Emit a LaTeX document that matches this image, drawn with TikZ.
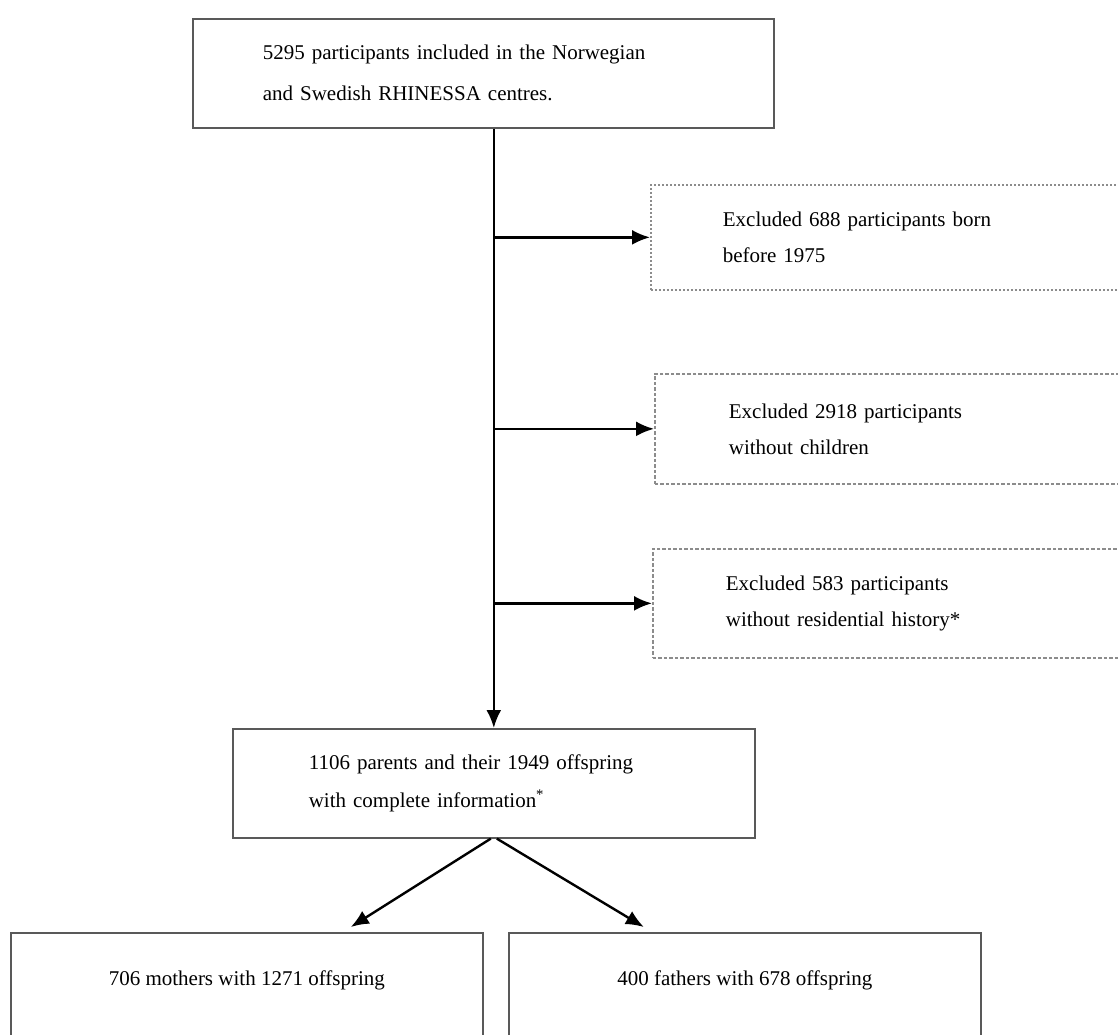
\documentclass[tikz,border=0pt]{standalone}
\usepackage{fontspec}
\setmainfont{Liberation Serif}
\usetikzlibrary{arrows.meta,calc}

\tikzset{
  box/.style={draw=black!65, line width=1.6pt, anchor=north west, align=left,
    inner ysep=0pt, font=\fontsize{21}{36}\selectfont},
  exbox/.style={box, draw=black!45, line width=1.7pt, dash pattern=on 3.5pt off 2pt},
  endbox/.style={draw=black!65, line width=1.6pt, anchor=north west, align=center,
    inner ysep=0pt, text height=53pt, text depth=150pt, font=\fontsize{21}{36}\selectfont},
  flow/.style={-{Latex[length=18pt,width=15pt]}, line width=2.4pt},
}

\begin{document}
\begin{tikzpicture}[x=1pt,y=-1pt]
  \useasboundingbox (0,0) rectangle (1118,1035);
  \clip (0,0) rectangle (1118,1035);

  % main line
  \node[box, minimum width=581pt, minimum height=109pt, text width=441pt, inner xsep=70pt,
    font=\fontsize{21}{41}\selectfont] (start) at (192,18)
    {5295 participants included in the Norwegian\\and Swedish RHINESSA centres.};
  \node[box, minimum width=522pt, minimum height=109pt, text width=370pt, inner xsep=76pt,
    font=\fontsize{21}{38}\selectfont] (cohort) at (232,728)
    {1106 parents and their 1949 offspring\\with complete information\textsuperscript{*}};

  % exclusions
  \node[exbox, dash pattern=on 2pt off 2pt, minimum width=480pt, minimum height=105pt, text width=336pt, inner xsep=72pt] (exBorn) at (650,184)
    {Excluded 688 participants born\\before 1975};
  \node[exbox, minimum width=480pt, minimum height=110pt, text width=332pt, inner xsep=74pt] (exChild) at (654,373)
    {Excluded 2918 participants\\without children};
  \node[exbox, minimum width=480pt, minimum height=109pt, text width=334pt, inner xsep=73pt] (exResid) at (652,548)
    {Excluded 583 participants\\without residential history*};

  % parents
  \node[endbox, minimum width=472pt] (mothers) at (10,932) {706 mothers with 1271 offspring};
  \node[endbox, minimum width=472pt] (fathers) at (508,932) {400 fathers with 678 offspring};

  \draw[flow] (start.south -| cohort.north) -- (cohort.north);
  \draw[flow] (exBorn.west -| cohort.north) -- (exBorn.west);
  \draw[flow] (exChild.west -| cohort.north) -- (exChild.west);
  \draw[flow] (exResid.west -| cohort.north) -- (exResid.west);
  \draw[flow] ([xshift=-3pt]cohort.south) -- ($(mothers.north)+(104,-5)$);
  \draw[flow] ([xshift=3pt]cohort.south) -- ($(fathers.north)+(-101,-5)$);
\end{tikzpicture}
\end{document}
